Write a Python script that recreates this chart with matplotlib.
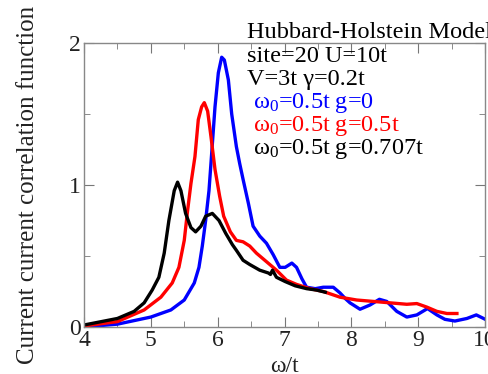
import matplotlib.pyplot as plt
import numpy as np

plt.rcParams['font.family'] = ['Liberation Serif', 'DejaVu Serif']
plt.rcParams['mathtext.fontset'] = 'custom'
plt.rcParams['mathtext.rm'] = 'Liberation Serif'
plt.rcParams['mathtext.it'] = 'Liberation Serif:italic'

# g = 0 (blue)
x_blue = [4.0, 4.5, 5.0, 5.3, 5.5, 5.65, 5.72, 5.77, 5.82, 5.87, 5.91, 5.96, 6.01,
          6.06, 6.10, 6.16, 6.21, 6.28, 6.33, 6.38, 6.46, 6.53, 6.63, 6.73, 6.83,
          6.93, 7.01, 7.11, 7.18, 7.26, 7.33, 7.46, 7.58, 7.73, 7.83, 7.91, 7.98,
          8.13, 8.28, 8.42, 8.53, 8.68, 8.83, 8.98, 9.14, 9.28, 9.40, 9.55, 9.73,
          9.87, 10.0]
y_blue = [0.0, 0.02, 0.07, 0.12, 0.19, 0.31, 0.42, 0.57, 0.75, 0.96, 1.22, 1.55,
          1.79, 1.90, 1.88, 1.74, 1.50, 1.27, 1.15, 1.04, 0.87, 0.71, 0.64, 0.59,
          0.51, 0.42, 0.42, 0.45, 0.42, 0.34, 0.28, 0.27, 0.28, 0.28, 0.24, 0.20,
          0.17, 0.125, 0.155, 0.195, 0.18, 0.11, 0.07, 0.085, 0.13, 0.085, 0.054,
          0.042, 0.06, 0.085, 0.055]

# g = 0.5t (red)
x_red = [4.0, 4.5, 4.9, 5.15, 5.32, 5.42, 5.5, 5.55, 5.6, 5.66, 5.71, 5.76, 5.80,
         5.85, 5.90, 5.96, 6.03, 6.09, 6.19, 6.28, 6.38, 6.48, 6.58, 6.73, 6.88,
         7.03, 7.18, 7.38, 7.58, 7.83, 8.08, 8.33, 8.58, 8.83, 8.98, 9.13, 9.28,
         9.43, 9.58]
y_red = [0.007, 0.038, 0.12, 0.21, 0.31, 0.42, 0.61, 0.82, 1.01, 1.20, 1.46, 1.55,
         1.58, 1.52, 1.34, 1.11, 0.92, 0.78, 0.67, 0.61, 0.60, 0.57, 0.52, 0.46,
         0.40, 0.33, 0.30, 0.27, 0.25, 0.21, 0.19, 0.18, 0.17, 0.16, 0.165, 0.14,
         0.11, 0.095, 0.095]

# g = 0.707t (black)
x_black = [4.0, 4.5, 4.75, 4.9, 5.02, 5.12, 5.2, 5.27, 5.35, 5.40, 5.45, 5.52, 5.6,
           5.67, 5.75, 5.82, 5.92, 6.02, 6.12, 6.22, 6.28, 6.38, 6.48, 6.63, 6.76,
           6.79, 6.82, 6.88, 7.01, 7.16, 7.33, 7.48, 7.61]
y_black = [0.014, 0.06, 0.11, 0.17, 0.26, 0.35, 0.52, 0.75, 0.96, 1.02, 0.96, 0.80,
           0.70, 0.67, 0.71, 0.78, 0.80, 0.75, 0.66, 0.58, 0.54, 0.47, 0.44, 0.40,
           0.38, 0.37, 0.40, 0.35, 0.32, 0.29, 0.27, 0.26, 0.245]

fig = plt.figure(figsize=(4.89, 3.74), dpi=100)
ax = fig.add_axes([0.1718, 0.1257, 0.82, 0.7593])

ax.plot(x_blue, y_blue, color='#0000ff', lw=2.4, solid_joinstyle='round')
ax.plot(x_red, y_red, color='#ff0000', lw=2.4, solid_joinstyle='round')
ax.plot(x_black, y_black, color='black', lw=2.4, solid_joinstyle='round')

ax.set_xlim(4, 10)
ax.set_ylim(0, 2)
ax.set_xticks([4, 5, 6, 7, 8, 9, 10])
ax.set_xticks(np.arange(4.5, 10, 1), minor=True)
ax.set_yticks([0, 1, 2])
ax.set_yticks([0.5, 1.5], minor=True)
ax.tick_params(which='both', direction='in', top=True, right=True, color='#777777')
ax.tick_params(which='major', length=7, labelsize=17, pad=2, labelcolor='#222222')
ax.tick_params(which='minor', length=4)
for s in ax.spines.values():
    s.set_color('#888888')
    s.set_linewidth(1.0)

ax.set_xlabel('ω/t', fontsize=17, labelpad=4, color='#222222')
ax.set_ylabel('Current current correlation function', fontsize=18, labelpad=22,
              color='#222222')

lines = [('Hubbard-Holstein Model', 'black', 247, 33),
         ('site=20 U=10t', 'black', 247, 57),
         ('V=3t γ=0.2t', 'black', 247, 80),
         ('ω$_0$=0.5t g=0', '#0000ff', 253, 103),
         ('ω$_0$=0.5t g=0.5t', '#ff0000', 253, 126),
         ('ω$_0$=0.5t g=0.707t', 'black', 253, 149)]
for txt, col, px, py in lines:
    fig.text(px / 489, 1 - py / 374, txt, color=col, fontsize=17.5,
             ha='left', va='center')

fig.savefig('out.png', dpi=100)
